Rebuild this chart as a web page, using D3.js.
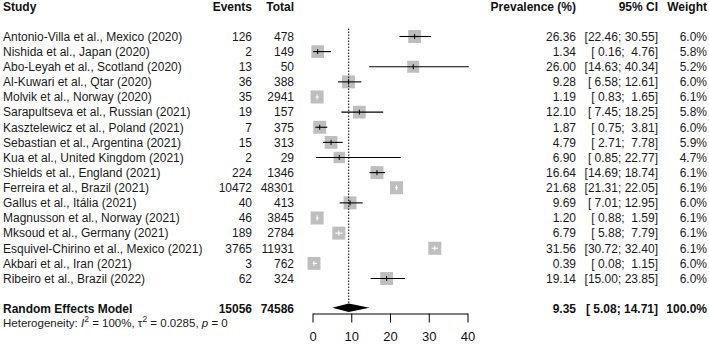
<!DOCTYPE html>
<html>
<head>
<meta charset="utf-8">
<script src="https://cdn.jsdelivr.net/npm/d3@7"></script>
<style>
  body { margin: 0; background: #fff; }
  svg { display: block; font-family: "Liberation Sans", Arial, sans-serif; }
  text { white-space: pre; }
</style>
</head>
<body>
<script>
var width = 709;
var height = 344;

var studies = ["Antonio-Villa et al., Mexico (2020)", "Nishida et al., Japan (2020)", "Abo-Leyah et al., Scotland (2020)",
  "Al-Kuwari et al., Qtar (2020)", "Molvik et al., Norway (2020)", "Sarapultseva et al., Russian (2021)",
  "Kasztelewicz et al., Poland (2021)", "Sebastian et al., Argentina (2021)", "Kua et al., United Kingdom (2021)",
  "Shields et al., England (2021)", "Ferreira et al., Brazil (2021)", "Gallus et al., Itália (2021)",
  "Magnusson et al., Norway (2021)", "Mksoud et al., Germany (2021)", "Esquivel-Chirino et al., Mexico (2021)",
  "Akbari et al., Iran (2021)", "Ribeiro et al., Brazil (2022)"];
var events = [126, 2, 13, 36, 35, 19, 7, 15, 2, 224, 10472, 40, 46, 189, 3765, 3, 62];
var totals = [478, 149, 50, 388, 2941, 157, 375, 313, 29, 1346, 48301, 413, 3845, 2784, 11931, 762, 324];
var prevalence = [26.36, 1.34, 26.00, 9.28, 1.19, 12.10, 1.87, 4.79, 6.90, 16.64, 21.68, 9.69, 1.20, 6.79, 31.56, 0.39, 19.14];
var lower = [22.46, 0.16, 14.63, 6.58, 0.83, 7.45, 0.75, 2.71, 0.85, 14.69, 21.31, 7.01, 0.88, 5.88, 30.72, 0.08, 15.00];
var upper = [30.55, 4.76, 40.34, 12.61, 1.65, 18.25, 3.81, 7.78, 22.77, 18.74, 22.05, 12.95, 1.59, 7.79, 32.40, 1.15, 23.85];
var weights = [6.0, 5.8, 5.2, 6.0, 6.1, 5.8, 6.0, 5.9, 4.7, 6.1, 6.1, 6.0, 6.1, 6.1, 6.1, 6.0, 6.0];

var pooled = {label: "Random Effects Model", events: 15056, total: 74586, est: 9.35, lower: 5.08, upper: 14.71, weight: 100.0};
var xTicks = [0, 10, 20, 30, 40];
var headers = ["Study", "Events", "Total", "Prevalence (%)", "95% CI", "Weight"];

var rows = studies.map(function(s, i) {
  return {study: s, events: events[i], total: totals[i], est: prevalence[i],
          lower: lower[i], upper: upper[i], weight: weights[i], row: i};
});

function fmtCI(lo, hi) {
  return "[" + lo.toFixed(2).padStart(5, " ") + "; " + hi.toFixed(2).padStart(5, " ") + "]";
}

var svg = d3.select("body").append("svg")
  .attr("width", width)
  .attr("height", height);

var x = d3.scaleLinear().domain([0, 40]).range([312.5, 467.5]);
var y = d3.scaleLinear().domain([0, 16]).range([36.5, 278.5]);
var size = d3.scaleSqrt().domain([0, 6.1]).range([0, 13]);

// column anchors
var cols = [
  {x: 3, anchor: "start"},
  {x: 252, anchor: "end"},
  {x: 294, anchor: "end"},
  {x: 576, anchor: "end"},
  {x: 658, anchor: "end"},
  {x: 707, anchor: "end"}
];

svg.selectAll(".header")
  .data(headers)
  .enter()
  .append("text")
  .attr("class", "header")
  .attr("x", (d, i) => cols[i].x)
  .attr("y", y(-2))
  .attr("dy", "0.36em")
  .attr("text-anchor", (d, i) => cols[i].anchor)
  .attr("font-size", 12)
  .attr("font-weight", "bold")
  .attr("fill", "#111")
  .text(d => d);

function rowTexts(d) {
  return [d.study, String(d.events), String(d.total), d.est.toFixed(2), fmtCI(d.lower, d.upper), d.weight.toFixed(1) + "%"];
}

var rowG = svg.selectAll(".study")
  .data(rows)
  .enter()
  .append("g")
  .attr("class", "study");

rowG.selectAll("text")
  .data(d => rowTexts(d).map((t, i) => ({t: t, i: i, row: d.row})))
  .enter()
  .append("text")
  .attr("x", d => cols[d.i].x)
  .attr("y", d => y(d.row))
  .attr("dy", "0.36em")
  .attr("text-anchor", d => cols[d.i].anchor)
  .attr("font-size", 12)
  .attr("fill", "#1a1a1a")
  .text(d => d.t);

// pooled row text
var pooledTexts = [pooled.label, String(pooled.events), String(pooled.total), pooled.est.toFixed(2),
  fmtCI(pooled.lower, pooled.upper), pooled.weight.toFixed(1) + "%"];
svg.selectAll(".pooled")
  .data(pooledTexts)
  .enter()
  .append("text")
  .attr("class", "pooled")
  .attr("x", (d, i) => cols[i].x)
  .attr("y", y(18) - 0.5)
  .attr("dy", "0.36em")
  .attr("text-anchor", (d, i) => cols[i].anchor)
  .attr("font-size", 12)
  .attr("font-weight", "bold")
  .attr("fill", "#111")
  .text(d => d);

// heterogeneity
var het = svg.append("text")
  .attr("x", 3)
  .attr("y", 326.5)
  .attr("font-size", 11.5)
  .attr("fill", "#1a1a1a");
het.append("tspan").text("Heterogeneity: ");
het.append("tspan").attr("font-style", "italic").text("I");
het.append("tspan").attr("font-size", 8.5).attr("dy", "-0.5em").text("2");
het.append("tspan").attr("dy", "0.37em").text(" = 100%, \u03c4");
het.append("tspan").attr("font-size", 8.5).attr("dy", "-0.5em").text("2");
het.append("tspan").attr("dy", "0.37em").text(" = 0.0285, ");
het.append("tspan").attr("font-style", "italic").text("p");
het.append("tspan").text(" = 0");

// reference line at pooled estimate
svg.append("line")
  .attr("x1", x(pooled.est))
  .attr("x2", x(pooled.est))
  .attr("y1", y(0) - 8)
  .attr("y2", y(18) - 1)
  .attr("stroke", "#000")
  .attr("stroke-width", 1)
  .attr("stroke-dasharray", "1.5,1.5");

// squares
rowG.append("rect")
  .attr("x", d => x(d.est) - size(d.weight) / 2)
  .attr("y", d => y(d.row) - size(d.weight) / 2)
  .attr("width", d => size(d.weight))
  .attr("height", d => size(d.weight))
  .attr("fill", "#bebebe");

// confidence intervals: white if fully inside the square
function inside(d) {
  var h = size(d.weight) / 2;
  return x(d.lower) >= x(d.est) - h && x(d.upper) <= x(d.est) + h;
}

rowG.append("line")
  .attr("x1", d => x(d.lower))
  .attr("x2", d => x(d.upper))
  .attr("y1", d => y(d.row))
  .attr("y2", d => y(d.row))
  .attr("stroke", d => inside(d) ? "#fff" : "#000")
  .attr("stroke-width", 1.1);

rowG.append("line")
  .attr("x1", d => x(d.est))
  .attr("x2", d => x(d.est))
  .attr("y1", d => y(d.row) - 2.5)
  .attr("y2", d => y(d.row) + 2.5)
  .attr("stroke", d => inside(d) ? "#fff" : "#000")
  .attr("stroke-width", 1);

// diamond
var yd = y(18) - 1;
svg.append("path")
  .attr("d", "M" + x(pooled.lower) + "," + yd +
             "L" + x(pooled.est) + "," + (yd - 4.3) +
             "L" + x(pooled.upper) + "," + yd +
             "L" + x(pooled.est) + "," + (yd + 4.3) + "Z")
  .attr("fill", "#000");

// axis
var xAxis = d3.axisBottom(x)
  .tickValues(xTicks)
  .tickSize(9)
  .tickSizeOuter(0)
  .tickPadding(9);

var axisG = svg.append("g")
  .attr("transform", "translate(0,313.5)")
  .call(xAxis);
axisG.selectAll("text")
  .attr("font-size", 13)
  .attr("font-family", "\"Liberation Sans\", Arial, sans-serif")
  .attr("fill", "#111");
axisG.selectAll("line, path").attr("stroke", "#000");
</script>
</body>
</html>
